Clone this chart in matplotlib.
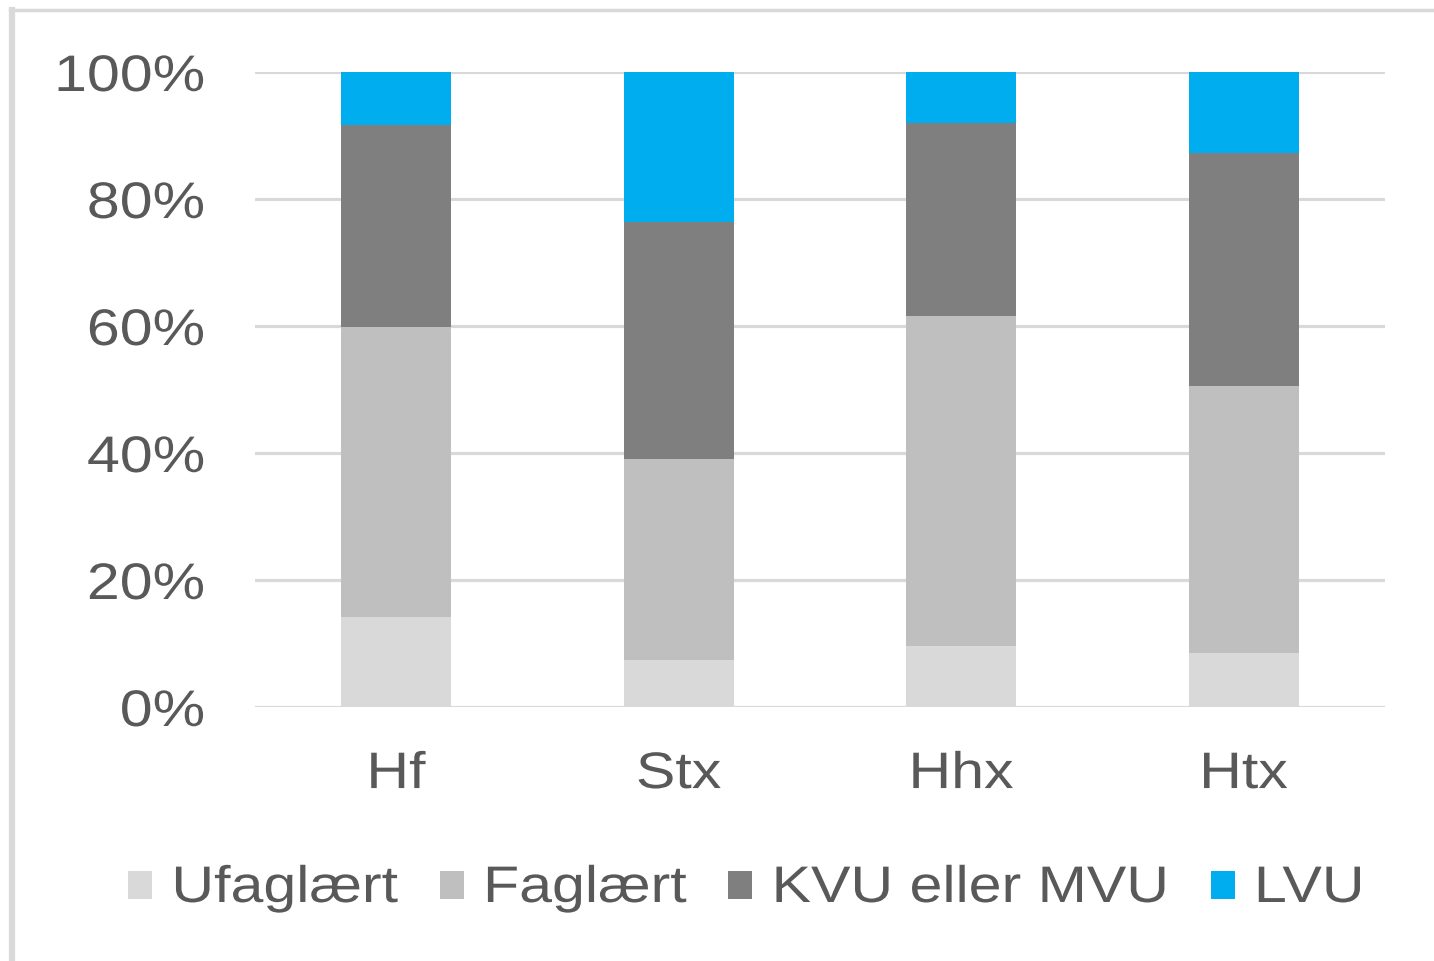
import matplotlib
matplotlib.use("Agg")
import matplotlib.pyplot as plt
import numpy as np
from matplotlib.patches import Rectangle
from matplotlib.lines import Line2D
from matplotlib.patheffects import AbstractPathEffect
from matplotlib.transforms import Affine2D

categories = ["Hf", "Stx", "Hhx", "Htx"]
series_names = ["Ufaglært", "Faglært", "KVU eller MVU", "LVU"]
ufaglaert = [14.2, 7.4, 9.6, 8.5]
faglaert = [45.6, 31.7, 52.0, 42.1]
kvu_mvu = [31.9, 37.3, 30.4, 36.6]
lvu = [8.3, 23.6, 8.0, 12.8]
yticks = [0, 20, 40, 60, 80, 100]
ytick_labels = ["0%", "20%", "40%", "60%", "80%", "100%"]

colors = ["#d9d9d9", "#bfbfbf", "#7f7f7f", "#00adef"]
text_color = "#595959"
FS = 37
SX = 1.15
plt.rcParams['font.family'] = ['Liberation Sans', 'DejaVu Sans']


class HStretch(AbstractPathEffect):
    """Stretch text horizontally around an anchor of its ink extents."""
    def __init__(self, sx=1.15, anchor='center'):
        super().__init__()
        self.sx = sx
        self.anchor = anchor

    def draw_path(self, renderer, gc, tpath, affine, rgbFace=None):
        try:
            bb = tpath.get_extents(affine)
            xmin, xmax = bb.x0, bb.x1
        except Exception:
            renderer.draw_path(gc, tpath, affine, rgbFace)
            return
        if self.anchor == 'left':
            x0 = xmin
        elif self.anchor == 'right':
            x0 = xmax
        else:
            x0 = 0.5 * (xmin + xmax)
        new_aff = affine + Affine2D().translate(-x0, 0).scale(self.sx, 1).translate(x0, 0)
        renderer.draw_path(gc, tpath, new_aff, rgbFace)


fig = plt.figure(figsize=(14.34, 9.61), dpi=100)
W, H = 1434, 961
ax = fig.add_axes([255/W, 1-707/H, 1130/W, 635/H])

x = np.arange(len(categories))
bottom = np.zeros(len(categories))
for vals, name, c in zip([ufaglaert, faglaert, kvu_mvu, lvu], series_names, colors):
    ax.bar(x, vals, bottom=bottom, width=0.39, color=c, label=name, zorder=3,
           edgecolor="none")
    bottom += np.array(vals)

ax.set_xlim(-0.5, len(categories) - 0.5)
ax.set_ylim(0, 100)
ax.set_yticks(yticks)
ax.set_yticklabels(ytick_labels)
ax.set_xticks(x)
ax.set_xticklabels(categories)
ax.tick_params(axis='y', length=0, pad=36, labelsize=FS, labelcolor=text_color)
ax.tick_params(axis='x', length=0, pad=31, labelsize=FS, labelcolor=text_color)
for s in ax.spines.values():
    s.set_visible(False)
ax.yaxis.grid(True, color="#d9d9d9", linewidth=2.3, zorder=0)
ax.set_axisbelow(True)
for t in ax.get_yticklabels():
    t.set_path_effects([HStretch(SX, 'right')])
for t in ax.get_xticklabels():
    t.set_path_effects([HStretch(SX, 'center')])

# chart border (top and left visible)
fig.add_artist(Line2D([10/W, 1], [1-9.5/H, 1-9.5/H], color="#d9d9d9", lw=2.5,
                      transform=fig.transFigure))
fig.add_artist(Line2D([12/W, 12/W], [0, 1-9.5/H], color="#d9d9d9", lw=4.5,
                      transform=fig.transFigure))

# legend laid out manually (stretched text)
renderer = fig.canvas.get_renderer()
cur = 128.0
sq_w, sq_h = 24.0, 28.0
row_c = 884.5
baseline = 902.0
for name, c in zip(series_names, colors):
    fig.add_artist(Rectangle((cur/W, 1-(row_c+sq_h/2)/H), sq_w/W, sq_h/H,
                             facecolor=c, edgecolor='none', transform=fig.transFigure))
    tx = cur + sq_w + 20
    t = fig.text(tx/W, 1-baseline/H, name, fontsize=FS, color=text_color,
                 ha='left', va='baseline')
    t.set_path_effects([HStretch(SX, 'left')])
    w = t.get_window_extent(renderer).width * SX
    cur = tx + w + 41

fig.savefig("out.png", dpi=100)
